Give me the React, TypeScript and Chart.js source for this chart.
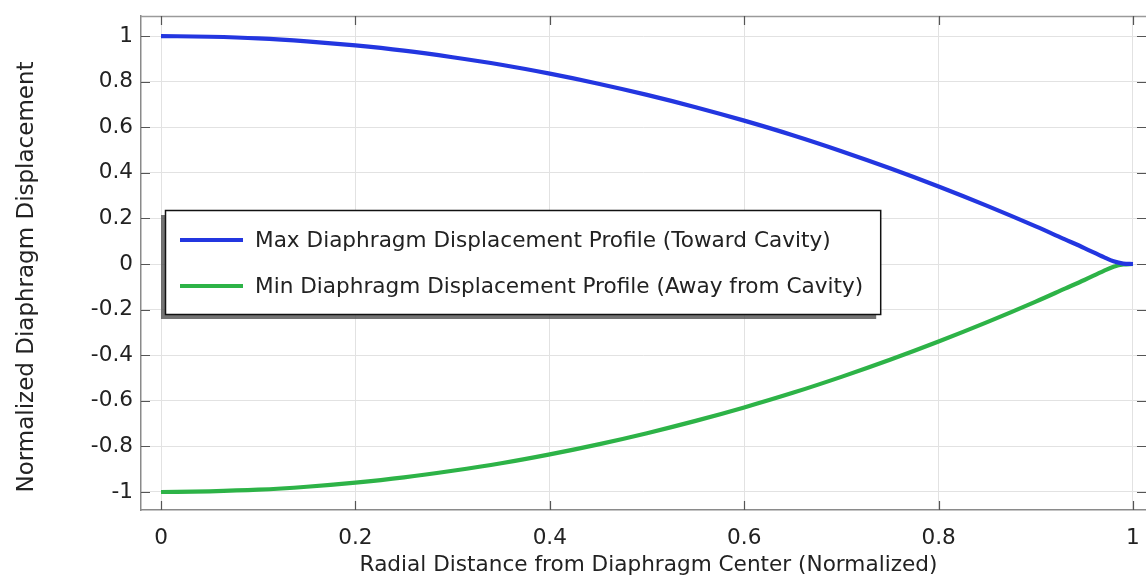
import React, { useEffect, useRef } from "react";
import { Chart, registerables } from "chart.js";

Chart.register(...registerables);

const RADIUS = [0, 0.05, 0.1, 0.15, 0.2, 0.25, 0.3, 0.35, 0.4, 0.45, 0.5, 0.55, 0.6, 0.65, 0.7, 0.75, 0.8, 0.85, 0.9, 0.93, 0.95, 0.97, 0.98, 0.99, 1.0];
const MAX_DISP = [1, 0.997, 0.99, 0.977, 0.959, 0.936, 0.907, 0.874, 0.835, 0.791, 0.742, 0.688, 0.629, 0.565, 0.495, 0.42, 0.34, 0.255, 0.165, 0.108, 0.07, 0.03, 0.012, 0.002, 0];
const MIN_DISP = [-1, -0.997, -0.99, -0.977, -0.959, -0.936, -0.907, -0.874, -0.835, -0.791, -0.742, -0.688, -0.629, -0.565, -0.495, -0.42, -0.34, -0.255, -0.165, -0.108, -0.07, -0.03, -0.012, -0.002, 0];
const X_TICKS = [0, 0.2, 0.4, 0.6, 0.8, 1];
const Y_TICKS = [-1, -0.8, -0.6, -0.4, -0.2, 0, 0.2, 0.4, 0.6, 0.8, 1];
const SERIES_LABELS = [
  "Max Diaphragm Displacement Profile (Toward Cavity)",
  "Min Diaphragm Displacement Profile (Away from Cavity)",
];
const X_TITLE = "Radial Distance from Diaphragm Center (Normalized)";
const Y_TITLE = "Normalized Diaphragm Displacement";

const FONT = "'DejaVu Sans', sans-serif";
const FONT_SIZE = 21.6;
const Y_TITLE_SIZE = 23;

const fmt = (v: number) => {
  const r = Math.round(v * 10) / 10;
  return Object.is(r, -0) ? "0" : String(r);
};

const zeroPadding = (scale: any) => {
  scale.paddingTop = 0;
  scale.paddingBottom = 0;
  scale.paddingLeft = 0;
  scale.paddingRight = 0;
};

const framePlugin = {
  id: "frame",
  afterDraw(chart: any) {
    const { ctx, chartArea, scales } = chart;
    const { left, right, top, bottom } = chartArea;
    ctx.save();
    // top border
    ctx.strokeStyle = "#9a9a9a";
    ctx.lineWidth = 1.5;
    ctx.beginPath();
    ctx.moveTo(left, top + 0.5);
    ctx.lineTo(right, top + 0.5);
    ctx.stroke();
    // inward ticks
    ctx.strokeStyle = "#555";
    ctx.lineWidth = 1.2;
    const tl = 9;
    scales.x.ticks.forEach((t: any) => {
      const px = Math.round(scales.x.getPixelForValue(t.value)) + 0.5;
      ctx.beginPath();
      ctx.moveTo(px, bottom);
      ctx.lineTo(px, bottom - tl);
      ctx.moveTo(px, top);
      ctx.lineTo(px, top + tl);
      ctx.stroke();
    });
    scales.y.ticks.forEach((t: any) => {
      const py = Math.round(scales.y.getPixelForValue(t.value)) + 0.5;
      ctx.beginPath();
      ctx.moveTo(left, py);
      ctx.lineTo(left + tl, py);
      ctx.moveTo(right, py);
      ctx.lineTo(right - tl, py);
      ctx.stroke();
    });

    // axis titles
    ctx.fillStyle = "#222";
    ctx.textAlign = "center";
    ctx.textBaseline = "middle";
    ctx.font = `${FONT_SIZE}px ${FONT}`;
    ctx.fillText(X_TITLE, 648.5, 565);
    ctx.save();
    ctx.translate(27, 277);
    ctx.rotate(-Math.PI / 2);
    ctx.font = `${Y_TITLE_SIZE}px ${FONT}`;
    ctx.fillText(Y_TITLE, 0, 0);
    ctx.restore();

    // legend
    const datasets = chart.data.datasets;
    ctx.font = `${FONT_SIZE}px ${FONT}`;
    let maxW = 0;
    datasets.forEach((d: any) => {
      maxW = Math.max(maxW, ctx.measureText(d.label).width);
    });
    const bx = 165;
    const by = 210;
    const lineStart = 15;
    const lineLen = 63;
    const gap = 12;
    const bw = lineStart + lineLen + gap + maxW + 17;
    const bh = 104;
    ctx.fillStyle = "rgba(80,80,80,0.8)";
    ctx.fillRect(bx - 4, by + 5, bw, bh);
    ctx.fillStyle = "#ffffff";
    ctx.fillRect(bx, by, bw, bh);
    ctx.strokeStyle = "#111";
    ctx.lineWidth = 1.5;
    ctx.strokeRect(bx + 0.5, by + 0.5, bw, bh);
    datasets.forEach((d: any, i: number) => {
      const y = by + 30 + i * 46;
      ctx.strokeStyle = d.borderColor;
      ctx.lineWidth = 4;
      ctx.beginPath();
      ctx.moveTo(bx + lineStart, y);
      ctx.lineTo(bx + lineStart + lineLen, y);
      ctx.stroke();
      ctx.fillStyle = "#222";
      ctx.textBaseline = "middle";
      ctx.textAlign = "left";
      ctx.fillText(d.label, bx + lineStart + lineLen + gap, y + 1);
    });
    ctx.restore();
  },
};

export default function App() {
  const ref = useRef<HTMLCanvasElement | null>(null);
  useEffect(() => {
    if (!ref.current) return;
    const chart = new Chart(ref.current, {
      type: "line",
      data: {
        datasets: [
          {
            label: SERIES_LABELS[0],
            data: RADIUS.map((x, i) => ({ x, y: MAX_DISP[i] })),
            borderColor: "#2336e0",
            borderWidth: 4.2,
            pointRadius: 0,
            cubicInterpolationMode: "monotone",
            fill: false,
          },
          {
            label: SERIES_LABELS[1],
            data: RADIUS.map((x, i) => ({ x, y: MIN_DISP[i] })),
            borderColor: "#2db347",
            borderWidth: 4.2,
            pointRadius: 0,
            cubicInterpolationMode: "monotone",
            fill: false,
          },
        ],
      },
      options: {
        responsive: false,
        animation: false,
        layout: { padding: { left: 0, top: 16, right: 0, bottom: 0 } },
        plugins: {
          legend: { display: false },
          tooltip: { enabled: false },
        },
        scales: {
          x: {
            type: "linear",
            min: -0.0206,
            max: 1.0134,
            afterBuildTicks: (scale: any) => {
              scale.ticks = X_TICKS.map((v) => ({ value: v }));
            },
            afterFit: (scale: any) => {
              scale.height = 66;
              zeroPadding(scale);
            },
            ticks: {
              callback: (v: any) => fmt(Number(v)),
              font: { family: FONT, size: FONT_SIZE },
              color: "#222",
              padding: 15,
              maxRotation: 0,
              autoSkip: false,
            },
            grid: { color: "#e2e2e2", lineWidth: 1, drawTicks: false },
            border: { display: true, color: "#8a8a8a", width: 1.5 },
          },
          y: {
            type: "linear",
            min: -1.079,
            max: 1.088,
            afterBuildTicks: (scale: any) => {
              scale.ticks = Y_TICKS.map((v) => ({ value: v }));
            },
            afterFit: (scale: any) => {
              scale.width = 141;
              zeroPadding(scale);
            },
            ticks: {
              callback: (v: any) => fmt(Number(v)),
              font: { family: FONT, size: FONT_SIZE },
              color: "#222",
              padding: 8,
              autoSkip: false,
            },
            grid: { color: "#e2e2e2", lineWidth: 1, drawTicks: false },
            border: { display: true, color: "#8a8a8a", width: 1.5 },
          },
        },
      },
      plugins: [framePlugin],
    } as any);
    return () => chart.destroy();
  }, []);
  return (
    <div style={{ position: "fixed", left: 0, top: 0, width: 1146, height: 576, background: "#fff" }}>
      <canvas ref={ref} width={1146} height={576} style={{ display: "block" }} />
    </div>
  );
}
